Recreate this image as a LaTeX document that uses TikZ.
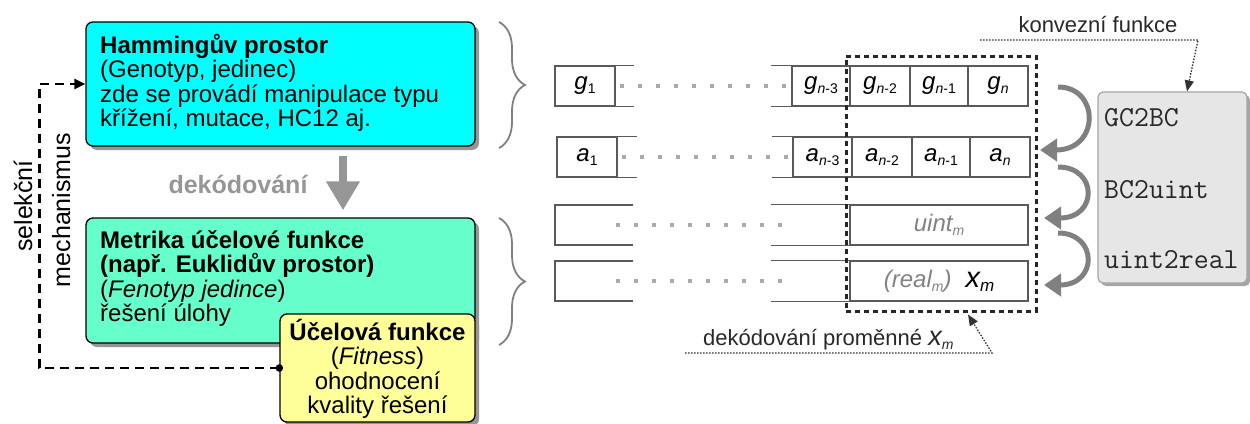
\documentclass[tikz,border=0pt]{standalone}
\usepackage{fontspec}
\setmainfont{Liberation Sans}
\usetikzlibrary{arrows.meta,shadows,decorations.pathreplacing,calc}

\definecolor{cyanbox}{RGB}{0,255,255}
\definecolor{greenbox}{RGB}{102,255,204}
\definecolor{yellowbox}{RGB}{255,255,153}
\definecolor{convbox}{RGB}{230,230,230}
\definecolor{convline}{RGB}{165,165,165}
\definecolor{arrgray}{RGB}{150,150,150}
\definecolor{curvgray}{RGB}{128,128,128}
\definecolor{shadowgray}{RGB}{150,150,150}
\definecolor{cellline}{RGB}{90,90,90}
\definecolor{dotgray}{RGB}{170,170,170}
\definecolor{bracegray}{RGB}{128,128,128}
\definecolor{textgray}{RGB}{130,130,130}
\definecolor{labeldark}{RGB}{40,40,40}

\newcommand\fs[1]{\fontsize{#1}{24.5}\selectfont}
\newcommand\sbs[1]{\raisebox{-4pt}{\fontsize{14}{14}\selectfont #1}}

\begin{document}
\begin{tikzpicture}[x=1pt,y=-1pt,
  bigbox/.style={draw=black, line width=1.3pt, rounded corners=7pt, inner sep=0pt,
    drop shadow={shadow xshift=4pt,shadow yshift=-4pt,fill=shadowgray,opacity=1}},
  txt/.style={inner sep=0pt, font=\fs{24}},
  cell/.style={draw=cellline, line width=1.2pt, minimum height=40pt, inner sep=0pt, font=\fs{24}\itshape},
  openline/.style={draw=cellline, line width=1.2pt},
  dotrow/.style={draw=dotgray, line width=4pt, dash pattern=on 4pt off 14pt},
  decframe/.style={draw=black!85, line width=3pt, dash pattern=on 5pt off 4pt, inner sep=0pt},
  curv/.style={draw=curvgray, line width=5pt, -{Triangle[length=17pt,width=22pt]}},
  pointer/.style={draw=black!80, line width=1.3pt, dash pattern=on 1.5pt off 1.5pt},
  seldash/.style={draw=black, line width=2.7pt, dash pattern=on 9pt off 6pt},
  bracestyle/.style={draw=bracegray, line width=1.8pt, decorate, decoration={brace, amplitude=26pt}},
  monotxt/.style={anchor=base west, font=\ttfamily\fontsize{29}{29}\selectfont, inner sep=0pt, text=labeldark},
]
\useasboundingbox (0,0) rectangle (1250,423);

% ---------- left part ----------
\node[bigbox, fill=cyanbox, minimum width=389pt, minimum height=124pt] (ham) at (280.5,84) {};
\node[txt, anchor=north west, align=left] (hamtxt) at (100,34)
  {\textbf{Hammingův prostor}\\(Genotyp, jedinec)\\zde se provádí manipulace typu\\křížení, mutace, HC12 aj.};

\node[bigbox, fill=greenbox, minimum width=389pt, minimum height=125pt] (met) at (280.5,280.5) {};
\node[txt, anchor=north west, align=left] (mettxt) at (100,230)
  {\textbf{Metrika účelové funkce}\\\textbf{(např. Euklidův prostor)}\\(\textit{Fenotyp jedince})\\řešení úlohy};

\node[bigbox, fill=yellowbox, minimum width=195pt, minimum height=108pt] (fit) at (377.5,368) {};
\node[txt, anchor=north, align=center] (fittxt) at (377.5,319)
  {\textbf{Účelová funkce}\\(\textit{Fitness})\\ohodnocení\\kvality řešení};

\draw[line width=8pt, arrgray, -{Triangle[length=29pt,width=32pt]}]
  ([xshift=62.5pt,yshift=-9pt]ham.south) -- ([xshift=62.5pt,yshift=7pt]met.north);
\node[anchor=base, font=\bfseries\fs{25}, text=arrgray, inner sep=0pt] (dek) at (238,193) {dekódování};

\draw[seldash, -{Triangle[length=11pt,width=10pt]}] (fit.west) -- ++(-240,0) |- (ham.west);
\fill (fit.west) circle (3.8);
\node[rotate=90, anchor=base, font=\fs{25}, inner sep=0pt] (sel1) at (32,206) {selekční};
\node[rotate=90, anchor=base, font=\fs{25}, inner sep=0pt] (sel2) at (70,210) {mechanismus};

% braces
\draw[bracestyle] (499,22) -- (499,148);
\draw[bracestyle] (499,218) -- (499,345);

% ---------- bit strings ----------
% row g
\node[cell, minimum width=60pt] (g1) at (585,86) {g\sbs{\upshape 1}};
\node[cell, minimum width=58pt] (gn3) at (821,86) {g\sbs{n\upshape-3}};
\node[cell, minimum width=60pt] (gn2) at (880,86) {g\sbs{n\upshape-2}};
\node[cell, minimum width=58pt] (gn1) at (939,86) {g\sbs{n\upshape-1}};
\node[cell, minimum width=60pt] (gn) at (998,86) {g\sbs{n}};
\draw[openline] (g1.north east) -- ++(18,0) (g1.south east) -- ++(18,0);
\draw[openline] (gn3.north west) -- ++(-20,0) (gn3.south west) -- ++(-20,0);
\draw[dotrow] (620,86) -- (788,86);

% row a
\node[cell, minimum width=60pt] (a1) at (587,157) {a\sbs{\upshape 1}};
\node[cell, minimum width=59pt] (an3) at (822.5,157) {a\sbs{n\upshape-3}};
\node[cell, minimum width=60pt] (an2) at (882,157) {a\sbs{n\upshape-2}};
\node[cell, minimum width=58pt] (an1) at (941,157) {a\sbs{n\upshape-1}};
\node[cell, minimum width=60pt] (an) at (1000,157) {a\sbs{n}};
\draw[openline] (a1.north east) -- ++(19,0) (a1.south east) -- ++(19,0);
\draw[openline] (an3.north west) -- ++(-20,0) (an3.south west) -- ++(-20,0);
\draw[dotrow] (622,157) -- (790,157);

% row uint
\node[cell, minimum width=178pt] (ui) at (939,225) {\color{textgray}uint\sbs{m}};
\draw[openline] (633,205) -- (555,205) -- (555,245) -- (633,245);
\draw[openline] (ui.north west) -- ++(-78,0) (ui.south west) -- ++(-78,0);
\draw[dotrow] (616,225) -- (784,225);

% row real
\node[cell, minimum width=178pt] (re) at (939,281) {\color{textgray}(real\sbs{m})\hspace{14pt}\color{black}\fontsize{29}{29}\selectfont x\sbs{\fontsize{17}{17}\selectfont m}};
\draw[openline] (633,261) -- (555,261) -- (555,301) -- (633,301);
\draw[openline] (re.north west) -- ++(-78,0) (re.south west) -- ++(-78,0);
\draw[dotrow] (616,281) -- (784,281);

% decoded variable frame
\node[decframe, minimum width=190pt, minimum height=255pt] (frm) at (941,183.5) {};

% ---------- conversion functions ----------
\node[draw=convline, line width=1.2pt, fill=convbox, rounded corners=5pt, inner sep=0pt,
  minimum width=149pt, minimum height=191pt,
  drop shadow={shadow xshift=3pt,shadow yshift=-3pt,fill=convline,opacity=1}] (conv) at (1172.5,187.5) {};
\node[monotxt] (f1) at (1104,126) {GC2BC};
\node[monotxt] (f2) at (1104,198) {BC2uint};
\node[monotxt] (f3) at (1104,268) {uint2real};

\coordinate (c1s) at (1058,87);  \coordinate (c1e) at (1040,150);
\coordinate (c2s) at (1058,167); \coordinate (c2e) at (1044,218);
\coordinate (c3s) at (1058,233); \coordinate (c3e) at (1044,285);
\draw[curv] (c1s) .. controls (1100,87) and (1100,150) .. (c1e);
\draw[curv] (c2s) .. controls (1098,167) and (1098,218) .. (c2e);
\draw[curv] (c3s) .. controls (1098,233) and (1098,285) .. (c3e);

% labels with pointers
\node[anchor=base, font=\fs{22}, text=labeldark, inner sep=0pt] (konv) at (1098,32) {konvezní funkce};
\coordinate (k1) at (980,40); \coordinate (k2) at (1198,40);
\draw[pointer, -{Triangle[length=11pt,width=9pt]}] (k1) -- (k2) -- (conv.north -| 1187,0);

\node[anchor=base west, font=\fs{22}, text=labeldark, inner sep=0pt] (dpl) at (703,345)
  {dekódování proměnné \textit{\fontsize{27}{27}\selectfont x\sbs{m}}};
\coordinate (d1) at (685,353); \coordinate (d2) at (992,353);
\draw[pointer, -{Triangle[length=11pt,width=9pt]}] (d1) -- (d2) -- ([xshift=27pt,yshift=-2pt]frm.south);
\end{tikzpicture}
\end{document}
